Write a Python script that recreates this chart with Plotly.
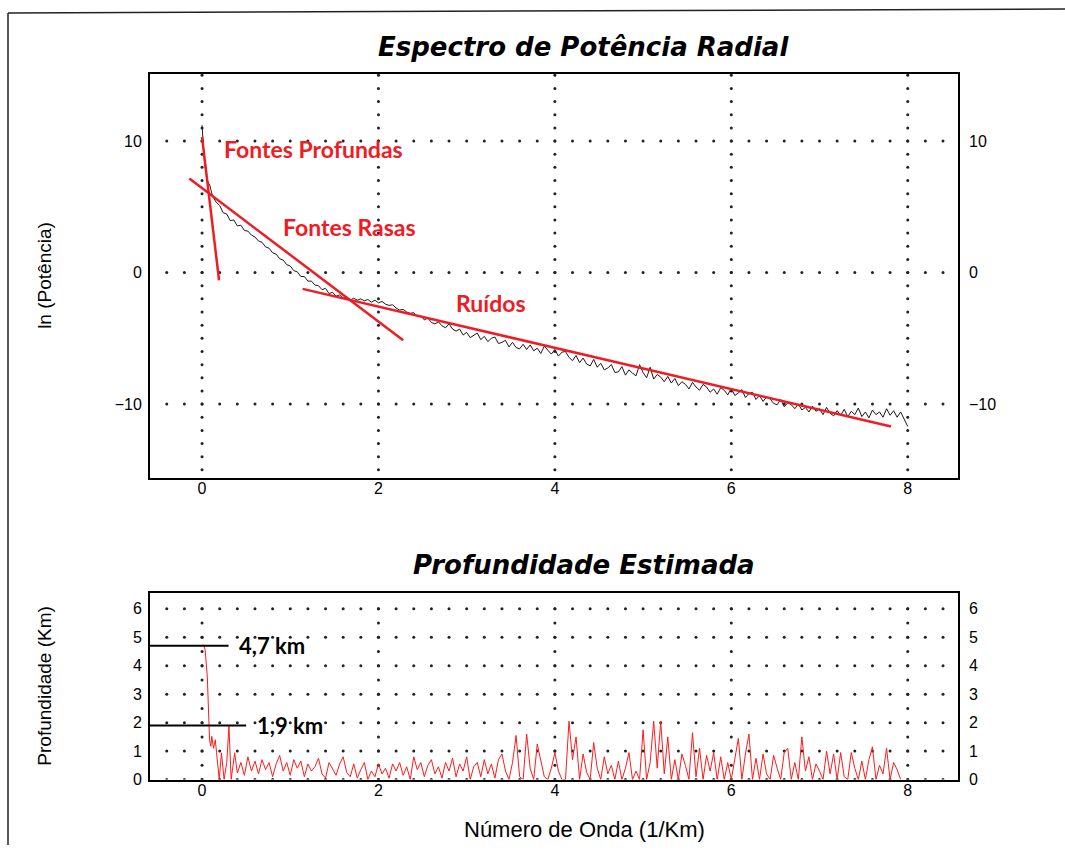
import numpy as np
import plotly.graph_objects as go

W, H = 1065, 854
VS = 0.99  # vertical pixel scale of the rendered page

# ---------------- data ----------------
# Radial power spectrum, ln(P) against wavenumber (1/km)
spec_k_head = [0.0, 0.01, 0.03, 0.06, 0.09, 0.10]
spec_lnp_head = [11.2, 9.8, 8.2, 7.0, 6.6, 6.3]
spec_k_start, spec_k_step = 0.12, 0.04
spec_lnp_body = [
    5.8, 5.35, 5.1, 4.55, 4.45, 3.95, 4.0, 3.55, 3.6, 3.2,
    3.15, 2.85, 2.7, 2.4, 2.3, 1.95, 1.85, 1.5, 1.4, 1.05,
    0.95, 0.6, 0.5, 0.15, 0.05, -0.3, -0.3, -0.65, -0.65, -0.95,
    -1.0, -1.3, -1.2, -1.6, -1.5, -1.8, -1.7, -1.95, -1.85, -2.1,
    -1.95, -2.1, -2.0, -2.15, -2.05, -2.25, -2.1, -2.3, -2.2, -2.4,
    -2.5, -2.45, -2.7, -2.85, -2.8, -3.0, -3.1, -3.05, -3.35, -3.3,
    -3.6, -3.45, -3.8, -3.9, -3.75, -4.05, -4.2, -3.9, -4.3, -4.45,
    -4.3, -4.75, -4.55, -4.95, -4.75, -4.6, -5.1, -4.85, -5.25, -5.0,
    -4.9, -5.4, -5.3, -5.15, -5.65, -5.3, -5.7, -5.8, -5.45, -5.85,
    -5.5, -5.95, -5.75, -6.15, -5.6, -5.9, -6.2, -5.85, -6.35, -6.05,
    -6.0, -6.45, -6.7, -6.3, -6.85, -6.5, -6.95, -7.1, -6.6, -7.2,
    -6.9, -7.4, -7.25, -7.0, -7.6, -7.55, -7.15, -7.8, -7.4, -7.65,
    -7.85, -7.0, -7.6, -8.0, -7.2, -8.1, -7.75, -7.95, -8.3, -7.9,
    -8.4, -8.05, -8.6, -8.3, -8.5, -8.85, -8.35, -8.7, -8.95, -8.5,
    -8.7, -9.1, -8.85, -9.25, -8.75, -8.95, -9.3, -8.8, -9.35, -9.15,
    -8.9, -9.5, -9.2, -9.1, -9.65, -9.35, -9.8, -9.45, -9.6, -9.95,
    -10.05, -9.65, -10.2, -9.9, -10.05, -10.35, -10.0, -10.45, -10.25, -10.6,
    -10.15, -10.55, -10.35, -10.8, -10.25, -10.7, -10.9, -10.5, -10.85, -10.4,
    -10.95, -10.55, -10.8, -10.3, -10.95, -10.6, -11.05, -10.45, -10.8, -10.6,
    -11.0, -10.35, -10.85, -10.5, -11.0, -10.6, -11.1, -11.7,
]

# Straight-line fits to the three spectral segments (end points)
deep_k, deep_lnp = [0.0, 0.193], [10.3, -0.59]
shallow_k, shallow_lnp = [-0.144, 2.28], [7.15, -5.15]
noise_k, noise_lnp = [1.14, 7.81], [-1.24, -11.7]

# Estimated depth (km) against wavenumber
depth_k_head = [0.015, 0.035, 0.06, 0.075, 0.085, 0.10, 0.11, 0.13, 0.15,
                0.165, 0.195, 0.22, 0.25, 0.28, 0.305, 0.33, 0.37, 0.40]
depth_head = [4.74, 4.56, 3.6, 2.4, 1.4, 1.17, 1.52, 1.1, 1.4,
              0.94, 0.0, 0.94, 0.0, 0.6, 1.88, 0.0, 0.94, 0.23]
depth_k_start, depth_k_step = 0.44, 0.04
depth_body = [
    0.6, 0.15, 0.8, 0.3, 0.65, 0.2, 0.7, 0.35, 0.6, 0.1,
    0.55, 0.85, 0.3, 0.6, 0.15, 0.7, 0.4, 0.65, 0.1, 0.55,
    0.3, 0.45, 0.75, 0.2, 0.05, 0.6, 0.35, 0.15, 0.55, 0.8,
    0.25, 0.1, 0.55, 0.05, 0.35, 0.6, 0.0, 0.3, 0.1, 0.55,
    0.2, 0.4, 0.05, 0.55, 0.3, 0.6, 0.15, 0.45, 0.0, 0.8,
    0.35, 0.6, 0.1, 0.5, 0.7, 0.2, 0.45, 0.05, 0.6, 0.3,
    0.75, 0.1, 0.55, 0.3, 0.8, 0.0, 0.45, 0.6, 0.1, 0.7,
    0.2, 0.55, 0.05, 0.7, 0.9, 0.3, 0.0, 0.6, 1.55, 0.1,
    0.0, 1.6, 0.4, 0.0, 1.25, 0.7, 0.1, 0.0, 0.4, 0.95,
    0.3, 0.0, 0.0, 2.05, 0.7, 1.5, 0.0, 0.9, 0.25, 0.0,
    1.3, 0.4, 0.0, 0.8, 0.2, 0.5, 0.0, 0.65, 0.0, 0.4,
    0.95, 0.0, 0.3, 0.0, 1.75, 0.0, 0.6, 2.05, 0.4, 2.05,
    0.2, 1.5, 0.0, 0.7, 0.0, 0.9, 0.5, 0.0, 1.65, 0.1,
    1.1, 0.0, 0.85, 0.3, 0.95, 0.0, 0.8, 0.0, 0.6, 0.0,
    0.7, 1.45, 0.0, 0.9, 1.6, 0.0, 0.75, 0.0, 0.9, 0.2,
    0.0, 0.85, 0.4, 0.0, 0.95, 1.1, 0.0, 0.6, 0.0, 1.5,
    0.3, 0.8, 0.0, 0.55, 0.3, 0.0, 1.0, 0.2, 0.9, 0.0,
    0.95, 0.1, 0.0, 0.95, 0.4, 0.0, 0.65, 0.0, 0.7, 1.15,
    0.0, 0.5, 0.2, 1.1, 0.0, 0.6, 0.35, 0.0,
]

# Marked depth levels
depth_marks = [4.7, 1.9]
depth_mark_labels = ["4,7 km", "1,9 km"]
depth_mark_k_end = [0.3, 0.5]

# Axis ticks and ranges
k_ticks = [0, 2, 4, 6, 8]
lnp_ticks = [-10, 0, 10]
depth_ticks = [0, 1, 2, 3, 4, 5, 6]
k_range = [-0.59, 8.57]
lnp_range = [-15.6, 15.1]
depth_range = [0, 6.55]

# ---------------- derived arrays ----------------
spec_k = np.concatenate([spec_k_head,
                         spec_k_start + spec_k_step * np.arange(len(spec_lnp_body))])
spec_lnp = np.concatenate([spec_lnp_head, spec_lnp_body])
depth_k = np.concatenate([depth_k_head,
                          depth_k_start + depth_k_step * np.arange(len(depth_body))])
depth = np.concatenate([depth_head, depth_body])


def px(x):
    return x / W


def py(y):
    return 1 - y / (H * VS)


RED = "#EE1C25"
TICK_FONT = dict(family="Liberation Sans, Arial, sans-serif", size=16, color="black")

fig = go.Figure()


def dotted_grid(xref, yref, vx, vy_step, hy, hx_step, ylo, yhi):
    """Dotted grid: vertical rows of dots at vx, horizontal rows at hy."""
    xs, ys = [], []
    for x in vx:
        yy = np.arange(np.ceil(ylo / vy_step) * vy_step, yhi + 1e-9, vy_step)
        xs += [x] * len(yy)
        ys += list(yy)
    hxx = np.round(np.arange(-0.4, 8.4001, hx_step), 3)
    for y in hy:
        xs += list(hxx)
        ys += [y] * len(hxx)
    fig.add_trace(go.Scatter(
        x=xs, y=ys, mode="markers", xaxis=xref, yaxis=yref,
        marker=dict(size=3, color="#222"), hoverinfo="skip", showlegend=False))


# top panel grid: dots each 1 unit on vertical lines, each 0.2 on horizontal ones
dotted_grid("x", "y", k_ticks, 1.0, lnp_ticks, 0.2, -15, 15)
# bottom panel grid
dotted_grid("x2", "y2", k_ticks, 0.5, depth_ticks, 0.2, 0, 6)

# spectrum
fig.add_trace(go.Scatter(x=spec_k, y=spec_lnp, mode="lines", xaxis="x", yaxis="y",
                         line=dict(color="#1a1a1a", width=1), showlegend=False))
# segment fits
for kk, vv in [(deep_k, deep_lnp), (shallow_k, shallow_lnp), (noise_k, noise_lnp)]:
    fig.add_trace(go.Scatter(x=kk, y=vv, mode="lines", xaxis="x", yaxis="y",
                             line=dict(color=RED, width=2.5), showlegend=False))

# depth curve
fig.add_trace(go.Scatter(x=depth_k, y=depth, mode="lines", xaxis="x2", yaxis="y2",
                         line=dict(color="#FF1A1A", width=1), showlegend=False))
# depth level markers
for d, kend in zip(depth_marks, depth_mark_k_end):
    fig.add_trace(go.Scatter(x=[k_range[0], kend], y=[d, d], mode="lines",
                             xaxis="x2", yaxis="y2", cliponaxis=False,
                             line=dict(color="black", width=2), showlegend=False))

xdom = [px(150), px(958)]
top_dom = [py(478), py(74)]
bot_dom = [py(780), py(593.5)]

frame = dict(showline=True, mirror=True, linecolor="black", linewidth=2,
             showgrid=False, zeroline=False, ticks="", tickfont=TICK_FONT)
right = dict(side="right", showline=False, showgrid=False, zeroline=False,
             ticks="", tickfont=TICK_FONT, ticklabelstandoff=10)

fig.update_layout(
    width=W, height=H, margin=dict(l=0, r=0, t=0, b=0),
    paper_bgcolor="white", plot_bgcolor="white", showlegend=False,
    xaxis=dict(domain=xdom, range=k_range, anchor="y", tickvals=k_ticks,
               ticklabelstandoff=-5, **frame),
    yaxis=dict(domain=top_dom, range=lnp_range, anchor="x", tickvals=lnp_ticks,
               ticklabelstandoff=3, **frame),
    yaxis3=dict(overlaying="y", anchor="x", range=lnp_range, tickvals=lnp_ticks, **right),
    xaxis2=dict(domain=xdom, range=k_range, anchor="y2", tickvals=k_ticks,
                ticklabelstandoff=-5, **frame),
    yaxis2=dict(domain=bot_dom, range=depth_range, anchor="x2", tickvals=depth_ticks,
                ticklabelstandoff=3, **frame),
    yaxis4=dict(overlaying="y2", anchor="x2", range=depth_range, tickvals=depth_ticks,
                **right),
)
# empty traces so the right-hand axes are drawn
fig.add_trace(go.Scatter(x=[None], y=[None], xaxis="x", yaxis="y3", showlegend=False))
fig.add_trace(go.Scatter(x=[None], y=[None], xaxis="x2", yaxis="y4", showlegend=False))

TITLE_FONT = dict(family="DejaVu Sans", size=26, color="black")
LABEL_FONT = dict(family="Liberation Sans, Arial, sans-serif", size=19, color="black")
CALLOUT = dict(family="Lato, Open Sans, sans-serif", size=23)

ann = [
    dict(text="<b><i>Espectro de Potência Radial</i></b>", x=px(583), y=py(47),
         font=TITLE_FONT),
    dict(text="<b><i>Profundidade Estimada</i></b>", x=px(584), y=py(565),
         font=TITLE_FONT),
    dict(text="ln (Potência)", x=px(45), y=py(276), textangle=-90, font=LABEL_FONT),
    dict(text="Profundidade (Km)", x=px(45), y=py(687), textangle=-90, font=LABEL_FONT),
    dict(text="Número de Onda (1/Km)", x=px(584), y=py(830),
         font=dict(LABEL_FONT, size=22)),
    dict(text="<b>Fontes Profundas</b>", x=px(313), y=py(149), font=dict(CALLOUT, color=RED)),
    dict(text="<b>Fontes Rasas</b>", x=px(349), y=py(227), font=dict(CALLOUT, color=RED)),
    dict(text="<b>Ruídos</b>", x=px(491), y=py(303), font=dict(CALLOUT, color=RED)),
]
for lbl, d, kend in zip(depth_mark_labels, depth_marks, depth_mark_k_end):
    ann.append(dict(text="<b>" + lbl + "</b>", x=kend + 0.1, y=d, xref="x2", yref="y2",
                    xanchor="left", font=dict(CALLOUT, size=22, color="black")))
for a in ann:
    a.setdefault("xref", "paper")
    a.setdefault("yref", "paper")
    a.setdefault("xanchor", "center")
    a.setdefault("yanchor", "middle")
    a["showarrow"] = False
fig.update_layout(annotations=ann)

# outer page frame
fig.update_layout(shapes=[
    dict(type="line", xref="paper", yref="paper", x0=px(8), x1=px(8), y0=0, y1=py(13),
         line=dict(color="#222", width=1.5)),
    dict(type="line", xref="paper", yref="paper", x0=px(8), x1=1, y0=py(13), y1=py(9),
         line=dict(color="#222", width=1.5)),
])

fig.write_html("out.html")
